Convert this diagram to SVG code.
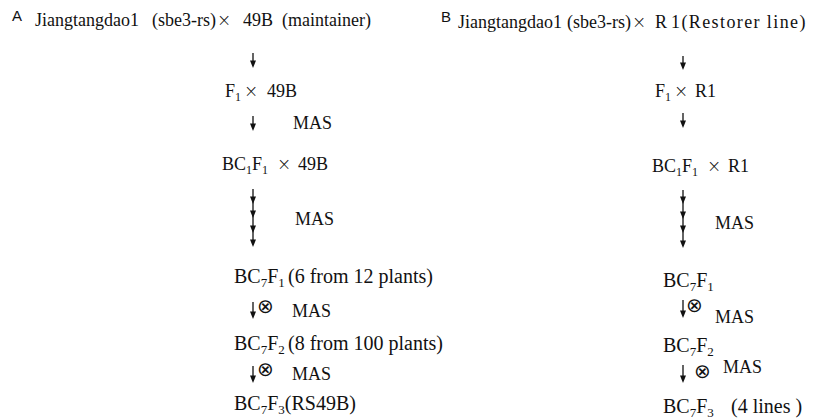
<svg xmlns="http://www.w3.org/2000/svg" xmlns:xlink="http://www.w3.org/1999/xlink" width="813" height="419" viewBox="0 0 813 419">
<style>
  .t { font-family: "Liberation Serif", "Times New Roman", serif; font-size: 18px; fill: #111; }
  .big { font-size: 20px; }
  .sub { font-size: 12px; }
  .big .sub { font-size: 13px; }
  .x { font-family: "DejaVu Sans", sans-serif; font-size: 17px; font-weight: 200; }
  .lab { font-family: "Liberation Sans", Arial, sans-serif; font-size: 15px; fill: #111; }
  .ln { stroke: #111; stroke-width: 1.3; fill: none; }
  .ot { font-family: "DejaVu Sans", sans-serif; font-size: 20px; fill: #111; }
</style>
<defs>
  <path id="ah" d="M0,0 L-3,-7.5 L3,-7.5 Z" fill="#111"/>
</defs>
<rect width="813" height="419" fill="#fff"/>

<g id="panelA-label"><text class="lab" x="12" y="21">A</text></g>
<g id="panelB-label"><text class="lab" x="441" y="22">B</text></g>

<g id="A-cross">
  <text class="t" y="26"><tspan x="35">Jiangtangdao1</tspan><tspan x="152">(sbe3-rs)</tspan><tspan class="x" x="217">×</tspan><tspan x="243">49B</tspan><tspan x="282">(maintainer)</tspan></text>
</g>
<g id="A-F1">
  <text class="t" y="97"><tspan x="225">F</tspan><tspan class="sub" dy="4">1</tspan><tspan class="x" dy="-4" x="244">×</tspan><tspan x="267">49B</tspan></text>
</g>
<g id="A-BC1F1">
  <text class="t" y="170"><tspan x="222">BC</tspan><tspan class="sub" dy="4">1</tspan><tspan dy="-4">F</tspan><tspan class="sub" dy="4">1</tspan><tspan class="x" dy="-4" x="277">×</tspan><tspan x="298">49B</tspan></text>
</g>
<g id="A-BC7F1">
  <text class="t big" y="283"><tspan x="234">BC</tspan><tspan class="sub" dy="4">7</tspan><tspan dy="-4">F</tspan><tspan class="sub" dy="4">1</tspan><tspan dy="-4" x="288">(6 from 12 plants)</tspan></text>
</g>
<g id="A-BC7F2">
  <text class="t big" y="350"><tspan x="234">BC</tspan><tspan class="sub" dy="4">7</tspan><tspan dy="-4">F</tspan><tspan class="sub" dy="4">2</tspan><tspan dy="-4" x="288">(8 from 100 plants)</tspan></text>
</g>
<g id="A-BC7F3">
  <text class="t big" y="410"><tspan x="234">BC</tspan><tspan class="sub" dy="4">7</tspan><tspan dy="-4">F</tspan><tspan class="sub" dy="4">3</tspan><tspan dy="-4">(RS49B)</tspan></text>
</g>

<g id="B-cross">
  <text class="t" y="28"><tspan x="458">Jiangtangdao1</tspan><tspan x="567">(sbe3-rs)</tspan><tspan class="x" x="632">×</tspan><tspan x="655">R</tspan><tspan x="671" letter-spacing="1.4">1(Restorer line)</tspan></text>
</g>
<g id="B-F1">
  <text class="t" y="97"><tspan x="655">F</tspan><tspan class="sub" dy="4">1</tspan><tspan class="x" dy="-4" x="674">×</tspan><tspan x="695">R1</tspan></text>
</g>
<g id="B-BC1F1">
  <text class="t" y="172"><tspan x="652">BC</tspan><tspan class="sub" dy="4">1</tspan><tspan dy="-4">F</tspan><tspan class="sub" dy="4">1</tspan><tspan class="x" dy="-4" x="707">×</tspan><tspan x="728">R1</tspan></text>
</g>
<g id="B-BC7F1">
  <text class="t big" y="287"><tspan x="663">BC</tspan><tspan class="sub" dy="4">7</tspan><tspan dy="-4">F</tspan><tspan class="sub" dy="4">1</tspan></text>
</g>
<g id="B-BC7F2">
  <text class="t big" y="352"><tspan x="663">BC</tspan><tspan class="sub" dy="4">7</tspan><tspan dy="-4">F</tspan><tspan class="sub" dy="4">2</tspan></text>
</g>
<g id="B-BC7F3">
  <text class="t big" y="413"><tspan x="663">BC</tspan><tspan class="sub" dy="4">7</tspan><tspan dy="-4">F</tspan><tspan class="sub" dy="4">3</tspan><tspan dy="-4" x="731">(4 lines )</tspan></text>
</g>

<g id="connectors">
  <!-- Panel A -->
  <line class="ln" x1="253" y1="53" x2="253" y2="62"/><use xlink:href="#ah" x="253" y="68"/>
  <line class="ln" x1="253" y1="116" x2="253" y2="125"/><use xlink:href="#ah" x="253" y="131"/>
  <text class="t" x="293" y="129">MAS</text>
  <line class="ln" x1="253" y1="189" x2="253" y2="242"/>
  <use xlink:href="#ah" x="253" y="204"/><use xlink:href="#ah" x="253" y="218"/><use xlink:href="#ah" x="253" y="233"/><use xlink:href="#ah" x="253" y="247"/>
  <text class="t" x="295" y="225">MAS</text>
  <line class="ln" x1="253" y1="302" x2="253" y2="313"/><use xlink:href="#ah" x="253" y="319"/>
  <text class="ot" x="257" y="312.5">⊗</text>
  <text class="t" x="292" y="317">MAS</text>
  <line class="ln" x1="253" y1="366" x2="253" y2="377"/><use xlink:href="#ah" x="253" y="383"/>
  <text class="ot" x="257" y="375.5">⊗</text>
  <text class="t" x="292" y="380">MAS</text>
  <!-- Panel B -->
  <line class="ln" x1="683" y1="56" x2="683" y2="64"/><use xlink:href="#ah" x="683" y="70"/>
  <line class="ln" x1="683" y1="113" x2="683" y2="122"/><use xlink:href="#ah" x="683" y="128"/>
  <line class="ln" x1="683" y1="190" x2="683" y2="243"/>
  <use xlink:href="#ah" x="683" y="204"/><use xlink:href="#ah" x="683" y="219"/><use xlink:href="#ah" x="683" y="233"/><use xlink:href="#ah" x="683" y="248"/>
  <text class="t" x="715" y="229">MAS</text>
  <line class="ln" x1="683" y1="300" x2="683" y2="312"/><use xlink:href="#ah" x="683" y="318"/>
  <text class="ot" x="686" y="311.5">⊗</text>
  <text class="t" x="715" y="323">MAS</text>
  <line class="ln" x1="683" y1="365" x2="683" y2="377"/><use xlink:href="#ah" x="683" y="383"/>
  <text class="ot" x="694" y="377.5">⊗</text>
  <text class="t" x="723" y="373">MAS</text>
</g>
</svg>
